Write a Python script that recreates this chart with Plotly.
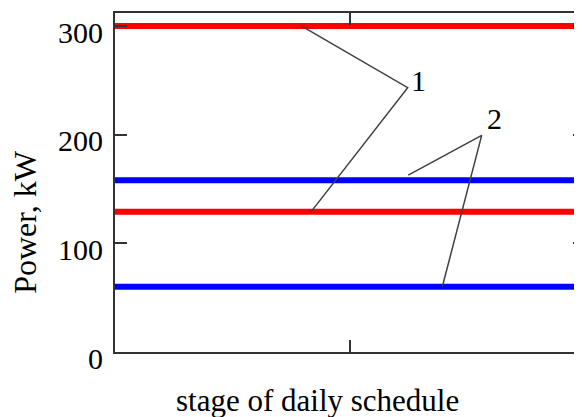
import plotly.graph_objects as go

# Data
x_span = [0, 2]
red_levels = [300, 129]      # curve 1
blue_levels = [158, 60]      # curve 2
y_ticks = [0, 100, 200, 300]
y_tick_labels = ["0", "100", "200", "300"]

# Callout leader polylines (data coords): end -> vertex -> end
leader1_x = [0.7945, 1.2455, 0.834]
leader1_y = [300, 243.3, 129]
leader2_x = [1.248, 1.5604, 1.3928]
leader2_y = [162.8, 199.4, 60]
label1_pos = (1.2915, 250)
label2_pos = (1.6128, 215)

FONT = "Liberation Serif, Times New Roman, serif"
AXC = "#333333"

fig = go.Figure()
for v in red_levels:
    fig.add_trace(go.Scatter(x=x_span, y=[v, v], mode="lines",
                             line=dict(color="#ff0000", width=6), hoverinfo="skip"))
for v in blue_levels:
    fig.add_trace(go.Scatter(x=x_span, y=[v, v], mode="lines",
                             line=dict(color="#0000ff", width=6), hoverinfo="skip"))
for lx, ly in [(leader1_x, leader1_y), (leader2_x, leader2_y)]:
    fig.add_trace(go.Scatter(x=lx, y=ly, mode="lines",
                             line=dict(color="#404040", width=1.5), hoverinfo="skip"))

fig.add_annotation(x=label1_pos[0], y=label1_pos[1], text="1", showarrow=False,
                   xanchor="center", yanchor="middle",
                   font=dict(family=FONT, size=30, color="black"))
fig.add_annotation(x=label2_pos[0], y=label2_pos[1], text="2", showarrow=False,
                   xanchor="center", yanchor="middle",
                   font=dict(family=FONT, size=30, color="black"))

fig.add_annotation(xref="paper", yref="paper", x=-0.1915, y=0.384, text="Power, kW",
                   textangle=-90, showarrow=False, xanchor="center", yanchor="middle",
                   font=dict(family=FONT, size=32, color="black"))
fig.add_annotation(xref="paper", yref="paper", x=0.4309, y=-0.1425,
                   text="stage of daily schedule", showarrow=False,
                   xanchor="center", yanchor="middle",
                   font=dict(family=FONT, size=31, color="black"))

fig.update_layout(
    width=582, height=417,
    margin=dict(l=107, r=5, t=3, b=73),
    plot_bgcolor="white", paper_bgcolor="white",
    showlegend=False,
    xaxis=dict(range=x_span, tickvals=[1], showticklabels=False,
               ticks="inside", ticklen=12, tickwidth=2, tickcolor=AXC,
               showline=True, linecolor=AXC, linewidth=2, mirror="ticks",
               showgrid=False, zeroline=False, fixedrange=True),
    yaxis=dict(range=[0, 312], tickvals=y_ticks, ticktext=y_tick_labels,
               ticks="inside", ticklen=12, tickwidth=2, tickcolor=AXC,
               showline=True, linecolor=AXC, linewidth=2, mirror="ticks",
               showgrid=False, zeroline=False, fixedrange=True,
               ticklabelshift=6, ticklabelstandoff=4,
               ticklabeloverflow="allow",
               tickfont=dict(family=FONT, size=30, color="black")),
)

fig.write_html("out.html")
